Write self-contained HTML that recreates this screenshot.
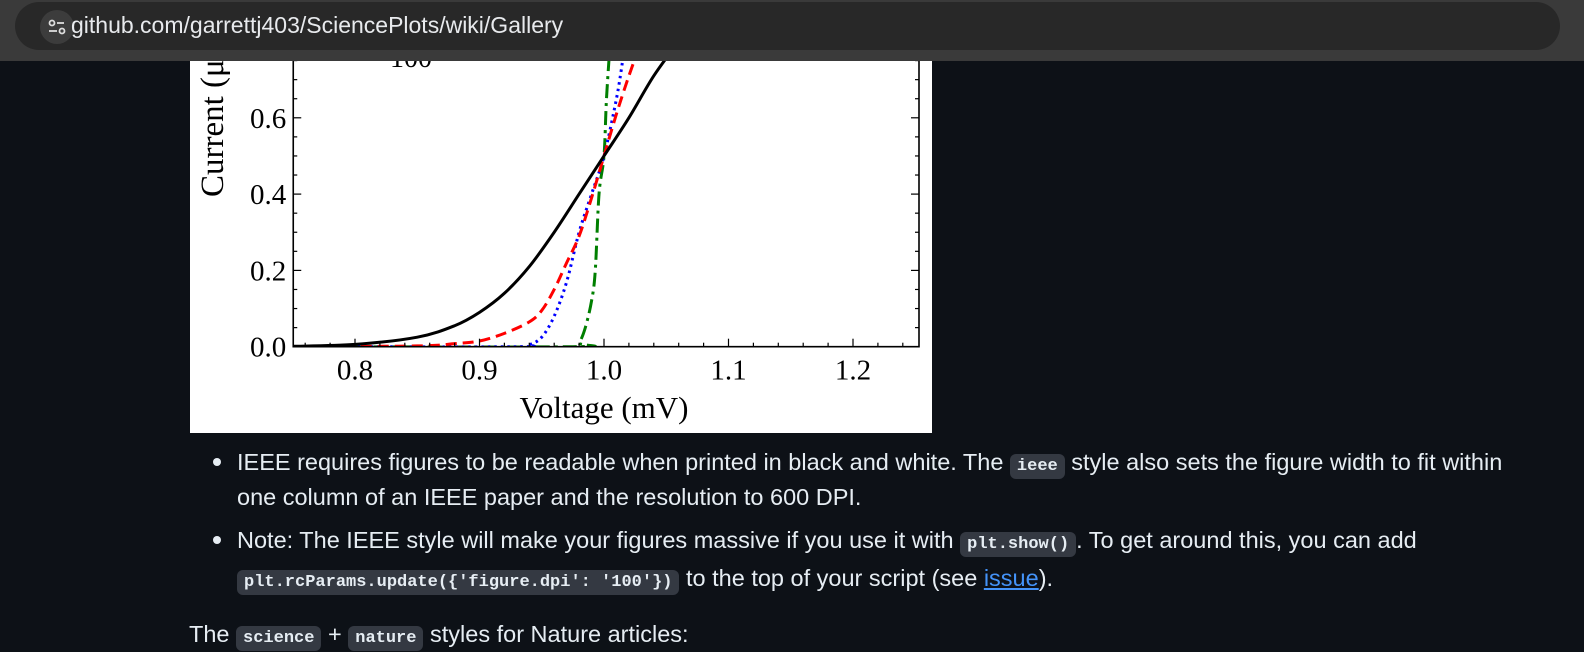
<!DOCTYPE html>
<html><head><meta charset="utf-8">
<style>
body{margin:0;width:1584px;height:643px;overflow:hidden;background:#0d1117;position:relative;font-family:"Liberation Sans",sans-serif}
#bar{position:absolute;left:0;top:0;width:1584px;height:61px;background:#3a3a3a}
#pill{position:absolute;left:15px;top:2px;width:1545px;height:48px;border-radius:24px;background:#282828}
#icon{position:absolute;left:25px;top:8px;width:34px;height:34px;border-radius:17px;background:#3c3c3c}
#url{position:absolute;left:56px;top:10px;font-size:23px;color:#e8eaed;white-space:nowrap}
#fig{position:absolute;left:190px;top:61px;width:742px;height:372px;background:#fff;overflow:hidden}
.t{position:absolute;color:#e6edf3;font-size:23.5px;white-space:nowrap;line-height:26px}
.dot{position:absolute;width:8px;height:8px;border-radius:4px;background:#e6edf3}
code{font-family:"Liberation Mono",monospace;font-size:17px;font-weight:bold;background:#343942;border-radius:6px;padding:3px 7px}
a{color:#4493f8;text-decoration:underline}
</style></head><body>
<div id="bar">
<div id="pill">
<div id="icon">
<svg width="34" height="34"><circle cx="12" cy="13" r="2.5" fill="none" stroke="#ddd" stroke-width="1.8"/><line x1="17" y1="13" x2="24" y2="13" stroke="#ddd" stroke-width="1.8"/><line x1="9" y1="21" x2="17" y2="21" stroke="#ddd" stroke-width="1.8"/><circle cx="22" cy="21" r="2.5" fill="none" stroke="#ddd" stroke-width="1.8"/></svg></div>
<div id="url">github.com/garrettj403/SciencePlots/wiki/Gallery</div>
</div></div>

<div id="fig">
<svg id="svg" width="742" height="372" xmlns="http://www.w3.org/2000/svg"></svg>
</div>

<div class="dot" style="left:213px;top:458px"></div>
<div class="t" style="left:237px;top:449px">IEEE requires figures to be readable when printed in black and white. The <code>ieee</code> style also sets the figure width to fit within</div>
<div class="t" style="left:237px;top:484px">one column of an IEEE paper and the resolution to 600 DPI.</div>
<div class="dot" style="left:213px;top:536px"></div>
<div class="t" style="left:237px;top:527px">Note: The IEEE style will make your figures massive if you use it with <code>plt.show()</code>. To get around this, you can add</div>
<div class="t" style="left:237px;top:565px"><code>plt.rcParams.update({'figure.dpi': '100'})</code> to the top of your script (see <a>issue</a>).</div>
<div class="t" style="left:189px;top:621px">The <code>science</code> + <code>nature</code> styles for Nature articles:</div>

<script>
const xTicks=[0.8,0.9,1.0,1.1,1.2];
const xTickLabels=["0.8","0.9","1.0","1.1","1.2"];
const yTicks=[0.0,0.2,0.4,0.6];
const yTickLabels=["0.0","0.2","0.4","0.6"];
const blackX=[0.75,0.8,0.85,0.88,0.9,0.92,0.94,0.96,0.98,1.0,1.02,1.04,1.06];
const blackY=[0.001,0.006,0.025,0.055,0.09,0.14,0.21,0.3,0.4,0.5,0.6,0.71,0.8];
const redX=[0.75,0.85,0.88,0.9,0.92,0.94,0.95,0.96,0.97,0.98,0.99,1.0,1.01,1.02,1.03];
const redY=[0,0.002,0.008,0.015,0.035,0.065,0.095,0.15,0.22,0.29,0.39,0.5,0.61,0.71,0.8];
const blueX=[0.75,0.93,0.94,0.95,0.96,0.97,0.98,0.99,1.0,1.01,1.015];
const blueY=[0,0,0.005,0.025,0.08,0.17,0.3,0.4,0.5,0.65,0.75];
const greenX=[0.75,0.975,0.98,0.985,0.99,0.993,0.996,1.0,1.002,1.005];
const greenY=[0,0,0.01,0.05,0.12,0.2,0.4,0.5,0.65,0.8];
const OX=190,OY=61;
const X=v=>(355+(v-0.8)*1245)-OX;
const Y=v=>(346.7-v*381.5)-OY;
const svg=document.getElementById('svg');
const NS='http://www.w3.org/2000/svg';
function mk(tag,attrs){const e=document.createElementNS(NS,tag);for(const k in attrs)e.setAttribute(k,attrs[k]);svg.appendChild(e);return e;}
const L=X(0.75)+0.5,R=919-OX,B=Y(0),T=-5;
function curve(xs,ys,color,dash,name){
 let d='';
 for(let i=0;i<xs.length;i++){
  const x=X(xs[i]),y=Y(ys[i]);
  if(i===0){d+='M'+x+','+y;continue;}
  const x0=X(xs[Math.max(i-2,0)]),y0=Y(ys[Math.max(i-2,0)]);
  const x1=X(xs[i-1]),y1=Y(ys[i-1]);
  const x3=X(xs[Math.min(i+1,xs.length-1)]),y3=Y(ys[Math.min(i+1,xs.length-1)]);
  d+=' C'+(x1+(x-x0)/6)+','+(y1+(y-y0)/6)+' '+(x-(x3-x1)/6)+','+(y-(y3-y1)/6)+' '+x+','+y;
 }
 const p=mk('path',{d:d,fill:'none',stroke:color,'stroke-width':3,'stroke-dasharray':dash,'clip-path':'url(#clip)'});
 
 
}
const defs=mk('defs',{});
const cp=document.createElementNS(NS,'clipPath');cp.setAttribute('id','clip');
const cr=document.createElementNS(NS,'rect');cr.setAttribute('x',L);cr.setAttribute('y',-10);cr.setAttribute('width',R-L);cr.setAttribute('height',B+10);
cp.appendChild(cr);defs.appendChild(cp);
curve(greenX,greenY,'#007f00','14 5 3 5','series-green-dashdot');
curve(blueX,blueY,'#0000ff','2.5 4','series-blue-dotted');
curve(redX,redY,'#ff0000','11 6','series-red-dashed');
curve(blackX,blackY,'#000','','series-black-solid');
const fr=mk('path',{d:`M${L},${T} V${B} H${R} V${T}`,fill:'none',stroke:'#000','stroke-width':1.6});


for(let v=0.76;v<1.25;v+=0.02){const x=X(v);const maj=xTicks.some(t=>Math.abs(t-v)<1e-6);
 mk('line',{x1:x,x2:x,y1:B,y2:B-(maj?8:4),stroke:'#000','stroke-width':1.2});}
xTicks.forEach((v,i)=>{const t=mk('text',{x:X(v),y:B+33,'text-anchor':'middle','font-family':'Liberation Serif, serif','font-size':29});
 t.textContent=xTickLabels[i];
 
 });
for(let v=0;v<0.8;v+=0.05){const y=Y(v);const maj=yTicks.some(t=>Math.abs(t-v)<1e-6);
 mk('line',{x1:L,x2:L+(maj?8:4),y1:y,y2:y,stroke:'#000','stroke-width':1.2});
 mk('line',{x1:R,x2:R-(maj?8:4),y1:y,y2:y,stroke:'#000','stroke-width':1.2});}
yTicks.forEach((v,i)=>{const t=mk('text',{x:L-7,y:Y(v)+10,'text-anchor':'end','font-family':'Liberation Serif, serif','font-size':29});
 t.textContent=yTickLabels[i];
 
 });
const xl=mk('text',{x:X(1.0),y:357,'text-anchor':'middle','font-family':'Liberation Serif, serif','font-size':31});
xl.textContent='Voltage (mV)';


const yl=mk('text',{x:0,y:0,'text-anchor':'start','font-family':'Liberation Serif, serif','font-size':33,transform:`translate(33,136) rotate(-90)`});
yl.textContent='Current (\u03bcA)';


const lg=mk('text',{x:200,y:6,'font-family':'Liberation Serif, serif','font-size':28});
lg.textContent='100';


</script>
</body></html>
